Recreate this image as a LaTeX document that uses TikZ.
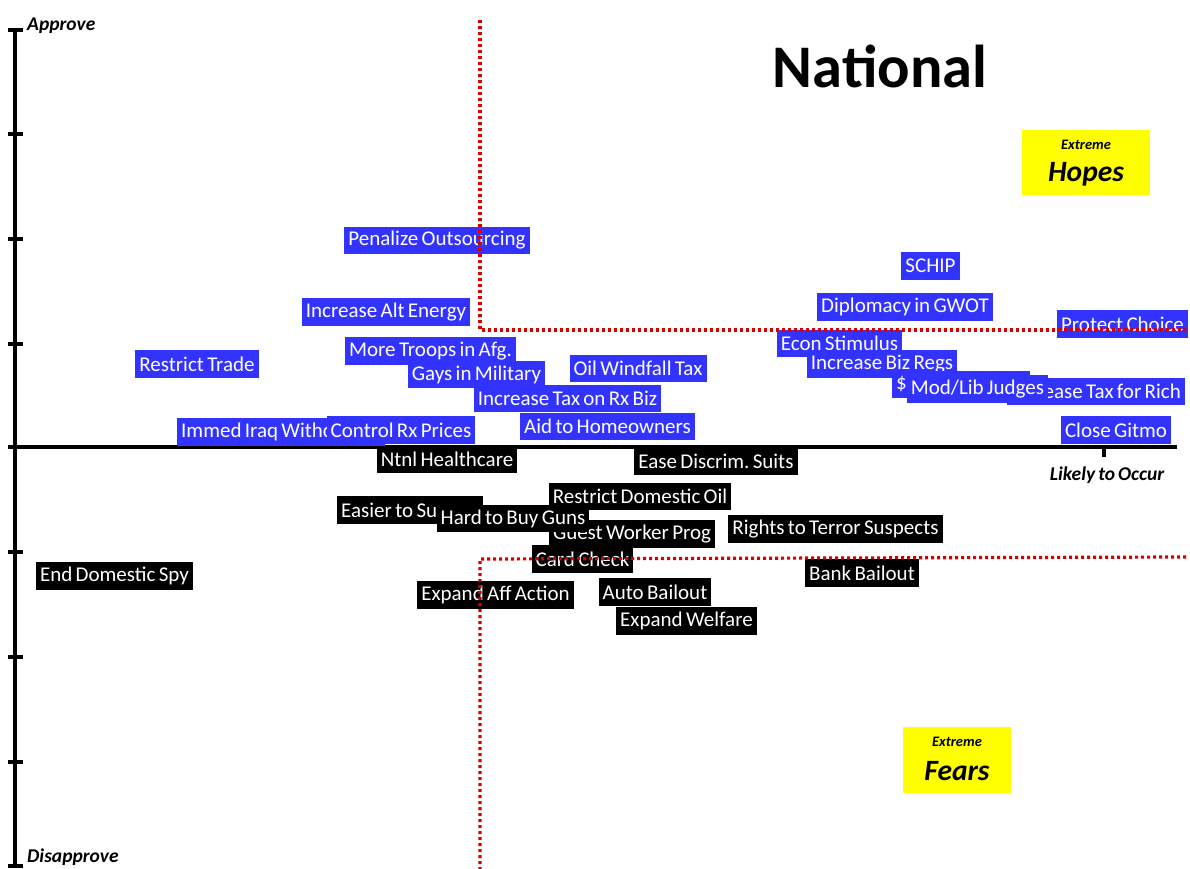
\documentclass[tikz,border=0pt]{standalone}
\usepackage{fontspec}
\setmainfont{Carlito}[WordSpace=0.7]
\frenchspacing
\definecolor{posblue}{RGB}{51,51,255}
\definecolor{dotred}{RGB}{215,0,0}
\definecolor{hiyellow}{RGB}{255,255,0}
\tikzset{
  issue/.style={text=white, font=\fontsize{21}{21}\selectfont, inner xsep=4pt,
    inner ysep=0pt, minimum height=27.5pt},
  hopebox/.style={issue, fill=posblue},
  fearbox/.style={issue, fill=black},
  axis/.style={line width=4pt, black},
  divider/.style={dotred, line width=3.2pt, dash pattern=on 3pt off 3pt},
  axlabel/.style={font=\fontsize{19.5}{19.5}\selectfont\bfseries\itshape, inner sep=0pt},
  extreme/.style={fill=hiyellow, minimum width=128pt, minimum height=65pt, inner sep=0pt},
  smallx/.style={axlabel, font=\fontsize{14.5}{14.5}\selectfont\bfseries\itshape},
  bigx/.style={axlabel, font=\fontsize{29.5}{29.5}\selectfont\bfseries\itshape}
}
\begin{document}
\begin{tikzpicture}[x=1pt, y=-1pt]
\useasboundingbox (0,0) rectangle (1190,869);

% approve / disapprove axis with ticks
\draw[axis] (15,28) -- (15,868);
\foreach \t in {30,134.5,239,343.5,447,552,657,762,866}
  \draw[axis] (8,\t) -- (23,\t);
\draw[axis] (8,447) -- (1177,447);
\draw[axis] (1104,447) -- (1104,457);

\node[axlabel, anchor=west] (approve) at (27,26) {Approve};
\node[axlabel, anchor=west] (disapprove) at (27,857) {Disapprove};
\node[axlabel] (likely) at (1107,475) {Likely to Occur};

\node[font=\fontsize{60.5}{60.5}\selectfont\bfseries] (title) at (880,66) {National};

% extreme corner boxes
\node[extreme] (hopes) at (1086,162.5) {};
\node[smallx] (hopesx) at (1086,145) {Extreme};
\node[bigx] (hopesw) at (1086,174) {Hopes};
\node[extreme, minimum width=108pt, minimum height=66pt] (fears) at (957,760) {};
\node[smallx] (fearsx) at (957,742) {Extreme};
\node[bigx] (fearsw) at (957,771) {Fears};

% issues voters hope for
\node[hopebox] (outsrc) at (437,240.5) {Penalize Outsourcing};
\node[hopebox] (schip) at (930.5,266) {SCHIP};
\node[hopebox] (altenergy) at (386,312) {Increase Alt Energy};
\node[hopebox] (diplomacy) at (905,307) {Diplomacy in GWOT};
\node[hopebox] (choice) at (1122.5,324) {Protect Choice};
\node[hopebox] (trade) at (197,364) {Restrict Trade};
\node[hopebox] (troops) at (430.5,351) {More Troops in Afg.};
\node[hopebox] (stimulus) at (839.5,343.5) {Econ Stimulus};
\node[hopebox] (bizregs) at (882,364) {Increase Biz Regs};
\node[hopebox] (gays) at (476.5,374.5) {Gays in Military};
\node[hopebox] (windfall) at (638,368.5) {Oil Windfall Tax};
\node[hopebox] (rxtax) at (567.5,398.5) {Increase Tax on Rx Biz};
\node[hopebox] (homeowners) at (607.5,426.5) {Aid to Homeowners};
\node[hopebox, anchor=west] (dollar) at (892,384.5) {\makebox[130pt][l]{\$}};
\node[hopebox, anchor=east] (richtax) at (1185,391.5) {Increase Tax for Rich};
\node[hopebox] (judges) at (977.5,389) {Mod/Lib Judges};
\node[hopebox] (gitmo) at (1116,430) {Close Gitmo};
\node[hopebox, anchor=west] (iraq) at (177,432) {Immed Iraq Withdrawal};
\node[hopebox] (rxprices) at (401,430) {Control Rx Prices};

% issues voters fear
\node[fearbox] (healthcare) at (447,459.5) {Ntnl Healthcare};
\node[fearbox] (discrim) at (716,461.5) {Ease Discrim. Suits};
\node[fearbox, anchor=west] (sue) at (337,510) {\makebox[138pt][l]{Easier to Sue}};
\node[fearbox] (guest) at (632,534) {Guest Worker Prog};
\node[fearbox] (guns) at (513,518.5) {Hard to Buy Guns};
\node[fearbox] (domoil) at (640,496.5) {Restrict Domestic Oil};
\node[fearbox] (cardcheck) at (582.5,559) {Card Check};
\node[fearbox] (terror) at (835.5,529) {Rights to Terror Suspects};
\node[fearbox] (spy) at (114.5,576) {End Domestic Spy};
\node[fearbox] (bank) at (862,573) {Bank Bailout};
\node[fearbox] (affaction) at (495.5,595) {Expand Aff Action};
\node[fearbox] (auto) at (655,592) {Auto Bailout};
\node[fearbox] (welfare) at (686.5,621) {Expand Welfare};

% quadrant dividers
\coordinate (uptop) at (480,20);
\coordinate (upcorner) at (480,330);
\coordinate (upend) at (1186,330);
\coordinate (lowend) at (1186,557);
\coordinate (lowcorner) at (480,559);
\coordinate (lowbottom) at (480,869);
\draw[divider] (uptop) -- (upcorner) -- (upend);
\draw[divider] (lowend) -- (lowcorner) -- (lowbottom);
\end{tikzpicture}
\end{document}
